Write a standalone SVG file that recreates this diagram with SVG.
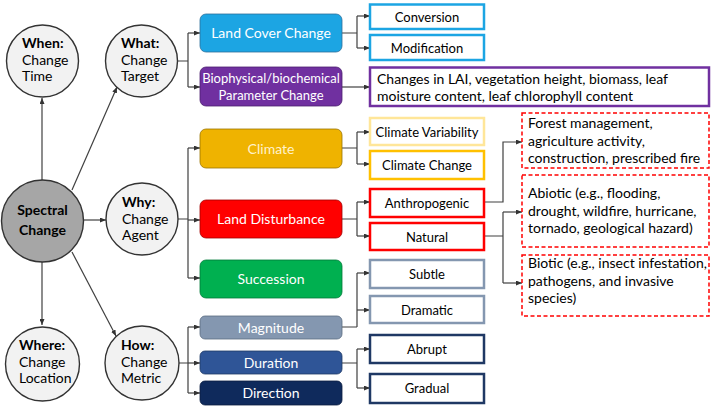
<svg xmlns="http://www.w3.org/2000/svg" width="711" height="407" viewBox="0 0 711 407">
<defs>
<marker id="ah" markerUnits="userSpaceOnUse" markerWidth="6" markerHeight="5" refX="6" refY="2.5" orient="auto"><path d="M0,0 L6,2.5 L0,5 z" fill="#333"/></marker>
<style>
.c{fill:#F2F2F2;stroke:#333;stroke-width:1.4}
.t{font-family:Lato,"Liberation Sans",sans-serif;font-size:14px;fill:#000}
.b{font-weight:bold}
.w{font-family:Lato,"Liberation Sans",sans-serif;font-size:14px;fill:#fff;text-anchor:middle}
.k{font-family:Lato,"Liberation Sans",sans-serif;font-size:13px;fill:#000;text-anchor:middle}
.l{fill:none;stroke:#404040;stroke-width:1.2}
.a{fill:none;stroke:#404040;stroke-width:1.2;marker-end:url(#ah)}
.o{fill:#fff;stroke-width:2.5}
.d{fill:#fff;stroke:#FF0000;stroke-width:1.5;stroke-dasharray:4 2.5}
</style>
</defs>
<rect width="711" height="407" fill="#fff"/>
<g id="connectors">
<path class="a" d="M42,180 V98"/>
<path class="a" d="M42,262 V325"/>
<path class="a" d="M72,190 L117,87"/>
<path class="a" d="M72,252 L116,336"/>
<path class="a" d="M83,220 H106"/>
<path class="l" d="M177,61 H188 M188,33 V87"/>
<path class="a" d="M188,33 H200"/><path class="a" d="M188,87 H200"/>
<path class="l" d="M178,219 H188 M188,148 V278"/>
<path class="a" d="M188,148 H200"/><path class="a" d="M188,220 H200"/><path class="a" d="M188,278 H200"/>
<path class="l" d="M178,363 H188 M188,327 V393"/>
<path class="a" d="M188,327 H200"/><path class="a" d="M188,363 H200"/><path class="a" d="M188,393 H200"/>
<path class="l" d="M342,33 H357 M357,16 V48"/>
<path class="a" d="M357,16 H370"/><path class="a" d="M357,48 H370"/>
<path class="a" d="M342,87 H370"/>
<path class="l" d="M342,148 H357 M357,132 V164"/>
<path class="a" d="M357,132 H370"/><path class="a" d="M357,164 H370"/>
<path class="l" d="M342,219 H357 M357,202 V236"/>
<path class="a" d="M357,202 H370"/><path class="a" d="M357,236 H370"/>
<path class="l" d="M342,327 H357 M357,273 V327"/>
<path class="a" d="M357,273 H370"/><path class="a" d="M357,310 H370"/>
<path class="l" d="M342,363 H357 M357,349 V388"/>
<path class="a" d="M357,349 H370"/><path class="a" d="M357,388 H370"/>
<path class="a" d="M484,202 H503 V142 H522"/>
<path class="l" d="M484,236 H503 M503,212 V283"/>
<path class="a" d="M503,212 H522"/><path class="a" d="M503,283 H522"/>
</g>
<g id="when"><circle class="c" cx="42.5" cy="61" r="36"/><text class="t" x="22" y="48"><tspan class="b">When:</tspan><tspan x="22" y="64.5">Change</tspan><tspan x="22" y="81">Time</tspan></text></g>
<g id="what"><circle class="c" cx="141.5" cy="61" r="36"/><text class="t" x="121" y="48"><tspan class="b">What:</tspan><tspan x="121" y="64.5">Change</tspan><tspan x="121" y="81">Target</tspan></text></g>
<g id="spectral"><circle cx="42.5" cy="221" r="41" fill="#A6A6A6" stroke="#333" stroke-width="1.4"/><text class="t b" x="42.5" y="215" text-anchor="middle" font-size="19"><tspan>Spectral</tspan><tspan x="42.5" y="235">Change</tspan></text></g>
<g id="why"><circle class="c" cx="142" cy="219" r="36"/><text class="t" x="122" y="207"><tspan class="b">Why:</tspan><tspan x="122" y="223.5">Change</tspan><tspan x="122" y="240">Agent</tspan></text></g>
<g id="where"><circle class="c" cx="42.5" cy="364" r="37"/><text class="t" x="19" y="350"><tspan class="b">Where:</tspan><tspan x="19" y="366.5">Change</tspan><tspan x="19" y="383">Location</tspan></text></g>
<g id="how"><circle class="c" cx="142" cy="363" r="37"/><text class="t" x="121" y="350"><tspan class="b">How:</tspan><tspan x="121" y="366.5">Change</tspan><tspan x="121" y="383">Metric</tspan></text></g>
<g id="landcover"><rect x="200" y="14" width="142" height="38" rx="6" fill="#1CA5E3" stroke="#2E6F9A" stroke-width="0.8"/><text class="w" x="271" y="38">Land Cover Change</text></g>
<g id="biophysical"><rect x="200" y="67" width="142" height="39" rx="6" fill="#7030A0" stroke="#4B1F6E" stroke-width="0.8"/><text class="w" x="271" y="83" font-size="13" style="font-size:13px">Biophysical/biochemical<tspan x="271" y="100">Parameter Change</tspan></text></g>
<g id="climate"><rect x="200" y="129" width="142" height="39" rx="6" fill="#EFB300" stroke="#9A7400" stroke-width="0.8"/><text class="w" x="271" y="153.5" style="fill:#FFF2CC">Climate</text></g>
<g id="landdisturbance"><rect x="200" y="200" width="142" height="38" rx="6" fill="#FF0000" stroke="#A00000" stroke-width="0.8"/><text class="w" x="271" y="224">Land Disturbance</text></g>
<g id="succession"><rect x="200" y="260" width="142" height="38" rx="6" fill="#00B050" stroke="#007A38" stroke-width="0.8"/><text class="w" x="271" y="284">Succession</text></g>
<g id="magnitude"><rect x="200" y="316" width="142" height="23" rx="5" fill="#8497B0" stroke="#5B6C82" stroke-width="0.8"/><text class="w" x="271" y="332.5">Magnitude</text></g>
<g id="duration"><rect x="200" y="351" width="142" height="23" rx="5" fill="#2F5597" stroke="#1F3A66" stroke-width="0.8"/><text class="w" x="271" y="367.5">Duration</text></g>
<g id="direction"><rect x="200" y="381" width="142" height="24" rx="5" fill="#0F2A5C" stroke="#0A1D40" stroke-width="0.8"/><text class="w" x="271" y="398">Direction</text></g>
<g id="conversion"><rect class="o" x="370" y="4.5" width="114" height="24.5" stroke="#1CA5E3"/><text class="k" x="427" y="21.5">Conversion</text></g>
<g id="modification"><rect class="o" x="370" y="35" width="114" height="25" stroke="#1CA5E3"/><text class="k" x="427" y="52.5">Modification</text></g>
<g id="changes"><rect class="o" x="370" y="67.5" width="339" height="38.5" stroke="#7030A0"/><text class="t" x="377" y="84">Changes in LAI, vegetation height, biomass, leaf<tspan x="377" y="101">moisture content, leaf chlorophyll content</tspan></text></g>
<g id="climatevar"><rect class="o" x="370" y="118" width="114" height="27" stroke="#FFE699"/><text class="k" x="427" y="136.5">Climate Variability</text></g>
<g id="climatechange"><rect class="o" x="370" y="151" width="114" height="28" stroke="#FFC000"/><text class="k" x="427" y="169.5">Climate Change</text></g>
<g id="anthropogenic"><rect class="o" x="370" y="189" width="114" height="28" stroke="#FF0000"/><text class="k" x="427" y="207.5">Anthropogenic</text></g>
<g id="natural"><rect class="o" x="370" y="223" width="114" height="27" stroke="#FF0000"/><text class="k" x="427" y="241.5">Natural</text></g>
<g id="subtle"><rect class="o" x="370" y="260" width="114" height="28" stroke="#8497B0"/><text class="k" x="427" y="278.5">Subtle</text></g>
<g id="dramatic"><rect class="o" x="370" y="296" width="114" height="27" stroke="#8497B0"/><text class="k" x="427" y="314.5">Dramatic</text></g>
<g id="abrupt"><rect class="o" x="370" y="335" width="114" height="28" stroke="#1F3864"/><text class="k" x="427" y="354">Abrupt</text></g>
<g id="gradual"><rect class="o" x="370" y="374" width="114" height="29" stroke="#1F3864"/><text class="k" x="427" y="393">Gradual</text></g>
<g id="anthro-detail"><rect class="d" x="522" y="113" width="187" height="55"/><text class="t" x="528" y="128">Forest management,<tspan x="528" y="145.5">agriculture activity,</tspan><tspan x="528" y="163">construction, prescribed fire</tspan></text></g>
<g id="abiotic"><rect class="d" x="522" y="175" width="187" height="72"/><text class="t" x="528" y="198">Abiotic (e.g., flooding,<tspan x="528" y="215.5">drought, wildfire, hurricane,</tspan><tspan x="528" y="233">tornado, geological hazard)</tspan></text></g>
<g id="biotic"><rect class="d" x="522" y="255" width="187" height="61"/><text class="t" x="528" y="268">Biotic (e.g., insect infestation,<tspan x="528" y="285.5">pathogens, and invasive</tspan><tspan x="528" y="303">species)</tspan></text></g>
</svg>
